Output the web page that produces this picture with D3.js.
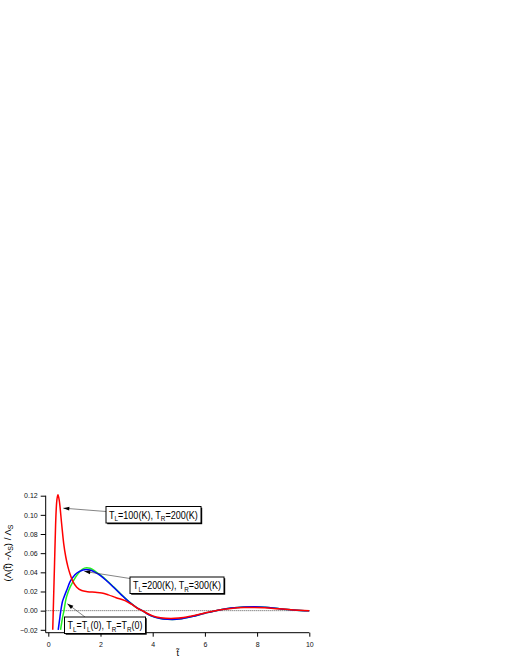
<!DOCTYPE html>
<html>
<head>
<meta charset="utf-8">
<script src="https://cdn.jsdelivr.net/npm/d3@7"></script>
<style>
body { margin: 0; background: #fff; }
svg text { font-family: "Liberation Sans", Arial, sans-serif; }
</style>
</head>
<body>
<div id="chart"></div>
<script>
var width = 510,
    height = 660;

// series: time t and (Λ(t)-Λs)/Λs
var redT = [0.17, 0.20, 0.24, 0.28, 0.32, 0.37, 0.42, 0.51, 0.59, 0.67, 0.75, 0.83, 0.95, 1.09, 1.28, 1.5, 1.8, 2.05, 2.3, 2.6, 2.94, 3.2, 3.45, 3.6, 3.8, 4.0, 4.3, 4.7, 5.0, 5.5, 6.0, 6.5, 7.0, 7.5, 7.9, 8.3, 8.8, 9.4, 10];
var redV = [-0.02, 0.01, 0.05, 0.09, 0.113, 0.121, 0.115, 0.091, 0.070, 0.056, 0.046, 0.0385, 0.030, 0.0245, 0.021, 0.0198, 0.0192, 0.0185, 0.0165, 0.0135, 0.0105, 0.0065, 0.002, 0.0, -0.003, -0.0055, -0.0075, -0.0083, -0.0078, -0.0055, -0.0025, 0.0005, 0.0023, 0.0032, 0.0034, 0.003, 0.002, 0.0008, -0.0002];

var blueT = [0.38, 0.43, 0.48, 0.53, 0.6, 0.7, 0.83, 1.02, 1.2, 1.45, 1.6, 1.8, 2.0, 2.2, 2.5, 2.8, 3.1, 3.4, 3.6, 3.8, 4.1, 4.4, 4.75, 5.1, 5.5, 6.0, 6.5, 7.0, 7.5, 7.9, 8.3, 8.8, 9.4, 10];
var blueV = [-0.02, -0.01, 0.0, 0.008, 0.014, 0.021, 0.030, 0.0375, 0.041, 0.043, 0.0425, 0.040, 0.0365, 0.032, 0.0245, 0.0165, 0.009, 0.003, 0.0, -0.0035, -0.007, -0.0088, -0.0093, -0.0085, -0.0062, -0.0027, 0.0005, 0.0027, 0.0038, 0.004, 0.0035, 0.0022, 0.0008, -0.0002];

var greenT = [0.47, 0.54, 0.6, 0.66, 0.78, 0.96, 1.15, 1.3, 1.47, 1.6, 1.8, 2.0, 2.2, 2.5, 2.8, 3.1, 3.4, 3.6, 3.8, 4.1, 4.4, 4.75, 5.1, 5.5, 6.0, 6.5, 7.0, 7.5, 7.9, 8.3, 8.8, 9.4, 10];
var greenV = [-0.02, -0.008, 0.0, 0.01, 0.021, 0.031, 0.039, 0.0432, 0.0448, 0.0443, 0.041, 0.037, 0.0325, 0.0248, 0.0167, 0.0091, 0.003, 0.0, -0.0035, -0.007, -0.0088, -0.0093, -0.0085, -0.0062, -0.0027, 0.0005, 0.0027, 0.0038, 0.004, 0.0035, 0.0022, 0.0008, -0.0002];

var xTicks = [0, 2, 4, 6, 8, 10];
var yTicks = [-0.02, 0.00, 0.02, 0.04, 0.06, 0.08, 0.10, 0.12];

// annotation labels: [T_L value, T_R value], arrow target (t, value)
var noteLabels = [["100(K)", "200(K)"], ["200(K)", "300(K)"], ["T", "T"]];
var noteTargets = [[0.575, 0.107], [1.38, 0.041], [0.73, 0.0072]];

var svg = d3.select("#chart")
    .append("svg")
    .attr("width", width)
    .attr("height", height);

var x = d3.scaleLinear().domain([0, 10]).range([48.3, 309.3]);
var y = d3.scaleLinear().domain([-0.02, 0.12]).range([629.8, 495.7]);

var axisX0 = 45.7,
    axisY0 = 632.7;

// axes (offset a little from the plot, as in the original)
var yAxis = d3.axisLeft(y)
    .tickValues(yTicks)
    .tickSize(5)
    .tickPadding(3)
    .tickFormat(d3.format(".2f"));

var gy = svg.append("g")
    .attr("transform", `translate(${axisX0},0)`)
    .call(yAxis);
gy.select(".domain").remove();
gy.selectAll("text").style("font-size", "7px").attr("fill", "#111");

var xAxis = d3.axisBottom(x)
    .tickValues(xTicks)
    .tickSize(4)
    .tickPadding(5)
    .tickFormat(d3.format("d"));

var gx = svg.append("g")
    .attr("transform", `translate(0,${axisY0})`)
    .call(xAxis);
gx.select(".domain").remove();
gx.selectAll("text").style("font-size", "7px").attr("fill", "#111");

svg.append("line")
    .attr("x1", axisX0).attr("x2", axisX0)
    .attr("y1", y(0.12)).attr("y2", axisY0)
    .attr("stroke", "#000");
svg.append("line")
    .attr("x1", axisX0).attr("x2", x(10))
    .attr("y1", axisY0).attr("y2", axisY0)
    .attr("stroke", "#000");

// zero line
svg.append("line")
    .attr("x1", axisX0).attr("x2", x(10))
    .attr("y1", y(0)).attr("y2", y(0))
    .attr("stroke", "#555")
    .attr("stroke-width", 1)
    .attr("stroke-dasharray", "1,1");

// axis titles
svg.append("text")
    .attr("x", x(5) - 1)
    .attr("y", 656)
    .attr("text-anchor", "middle")
    .style("font-size", "9px")
    .text("t\u0303");

var ylab = svg.append("text")
    .attr("transform", "translate(11,553) rotate(-90)")
    .attr("text-anchor", "middle")
    .style("font-size", "9.5px");
ylab.append("tspan").text("(\u039B(t\u0303) -\u039B");
ylab.append("tspan").attr("baseline-shift", "-25%").style("font-size", "7px").text("S");
ylab.append("tspan").text(") / \u039B");
ylab.append("tspan").attr("baseline-shift", "-25%").style("font-size", "7px").text("S");

// curves
var line = d3.line()
    .x(d => x(d[0]))
    .y(d => y(d[1]))
    .curve(d3.curveMonotoneX);

var series = [
    { t: greenT, v: greenV, color: "#22ee22" },
    { t: blueT, v: blueV, color: "#0000ff" },
    { t: redT, v: redV, color: "#ff0000" }
];

series.forEach(function (s) {
    svg.append("path")
        .datum(s.t.map((t, i) => [t, s.v[i]]))
        .attr("d", line)
        .attr("fill", "none")
        .attr("stroke", s.color)
        .attr("stroke-width", 1.5);
});

// annotation boxes
var boxes = [
    { x: 106, y: 506.5, w: 95, h: 16.5 },
    { x: 130, y: 577, w: 94, h: 16.5 },
    { x: 64.5, y: 617, w: 81, h: 16.5 }
];
var starts = [[106, 511.5], [130, 578.5], [85, 617]];

boxes.forEach(function (b, i) {
    var tgt = noteTargets[i];
    var tx = x(tgt[0]), ty = y(tgt[1]);
    var sx = starts[i][0], sy = starts[i][1];
    var ang = Math.atan2(ty - sy, tx - sx);
    svg.append("line")
        .attr("x1", sx).attr("y1", sy)
        .attr("x2", tx).attr("y2", ty)
        .attr("stroke", "#333")
        .attr("stroke-width", 0.6);
    var al = 6, aw = 2;
    var bx = tx - al * Math.cos(ang), by = ty - al * Math.sin(ang);
    svg.append("path")
        .attr("d", `M${tx},${ty}L${bx + aw * Math.sin(ang)},${by - aw * Math.cos(ang)}L${bx - aw * Math.sin(ang)},${by + aw * Math.cos(ang)}Z`)
        .attr("fill", "#000");

    svg.append("rect")
        .attr("x", b.x + 1.2).attr("y", b.y + 1.2)
        .attr("width", b.w).attr("height", b.h)
        .attr("fill", "#000");
    svg.append("rect")
        .attr("x", b.x).attr("y", b.y)
        .attr("width", b.w).attr("height", b.h)
        .attr("fill", "#fff")
        .attr("stroke", "#000")
        .attr("stroke-width", 1);

    // label squeezed horizontally to fit the box, like the narrow original font
    var g = svg.append("g");
    var txt = g.append("text")
        .attr("x", 0)
        .attr("y", 0)
        .style("font-size", "10px");
    var lab = noteLabels[i];
    txt.append("tspan").text("T");
    txt.append("tspan").attr("dy", 2.5).style("font-size", "7px").text("L");
    if (i === 2) {
        txt.append("tspan").attr("dy", -2.5).text("=T");
        txt.append("tspan").attr("dy", 2.5).style("font-size", "7px").text("L");
        txt.append("tspan").attr("dy", -2.5).text("(0), T");
        txt.append("tspan").attr("dy", 2.5).style("font-size", "7px").text("R");
        txt.append("tspan").attr("dy", -2.5).text("=T");
        txt.append("tspan").attr("dy", 2.5).style("font-size", "7px").text("R");
        txt.append("tspan").attr("dy", -2.5).text("(0)");
    } else {
        txt.append("tspan").attr("dy", -2.5).text("=" + lab[0] + ", T");
        txt.append("tspan").attr("dy", 2.5).style("font-size", "7px").text("R");
        txt.append("tspan").attr("dy", -2.5).text("=" + lab[1]);
    }
    var natural = txt.node().getComputedTextLength();
    var sc = Math.min(1, (b.w - 6) / natural);
    g.attr("transform", `translate(${b.x + 3},${b.y + 12.3}) scale(${sc},1)`);
});
</script>
</body>
</html>
